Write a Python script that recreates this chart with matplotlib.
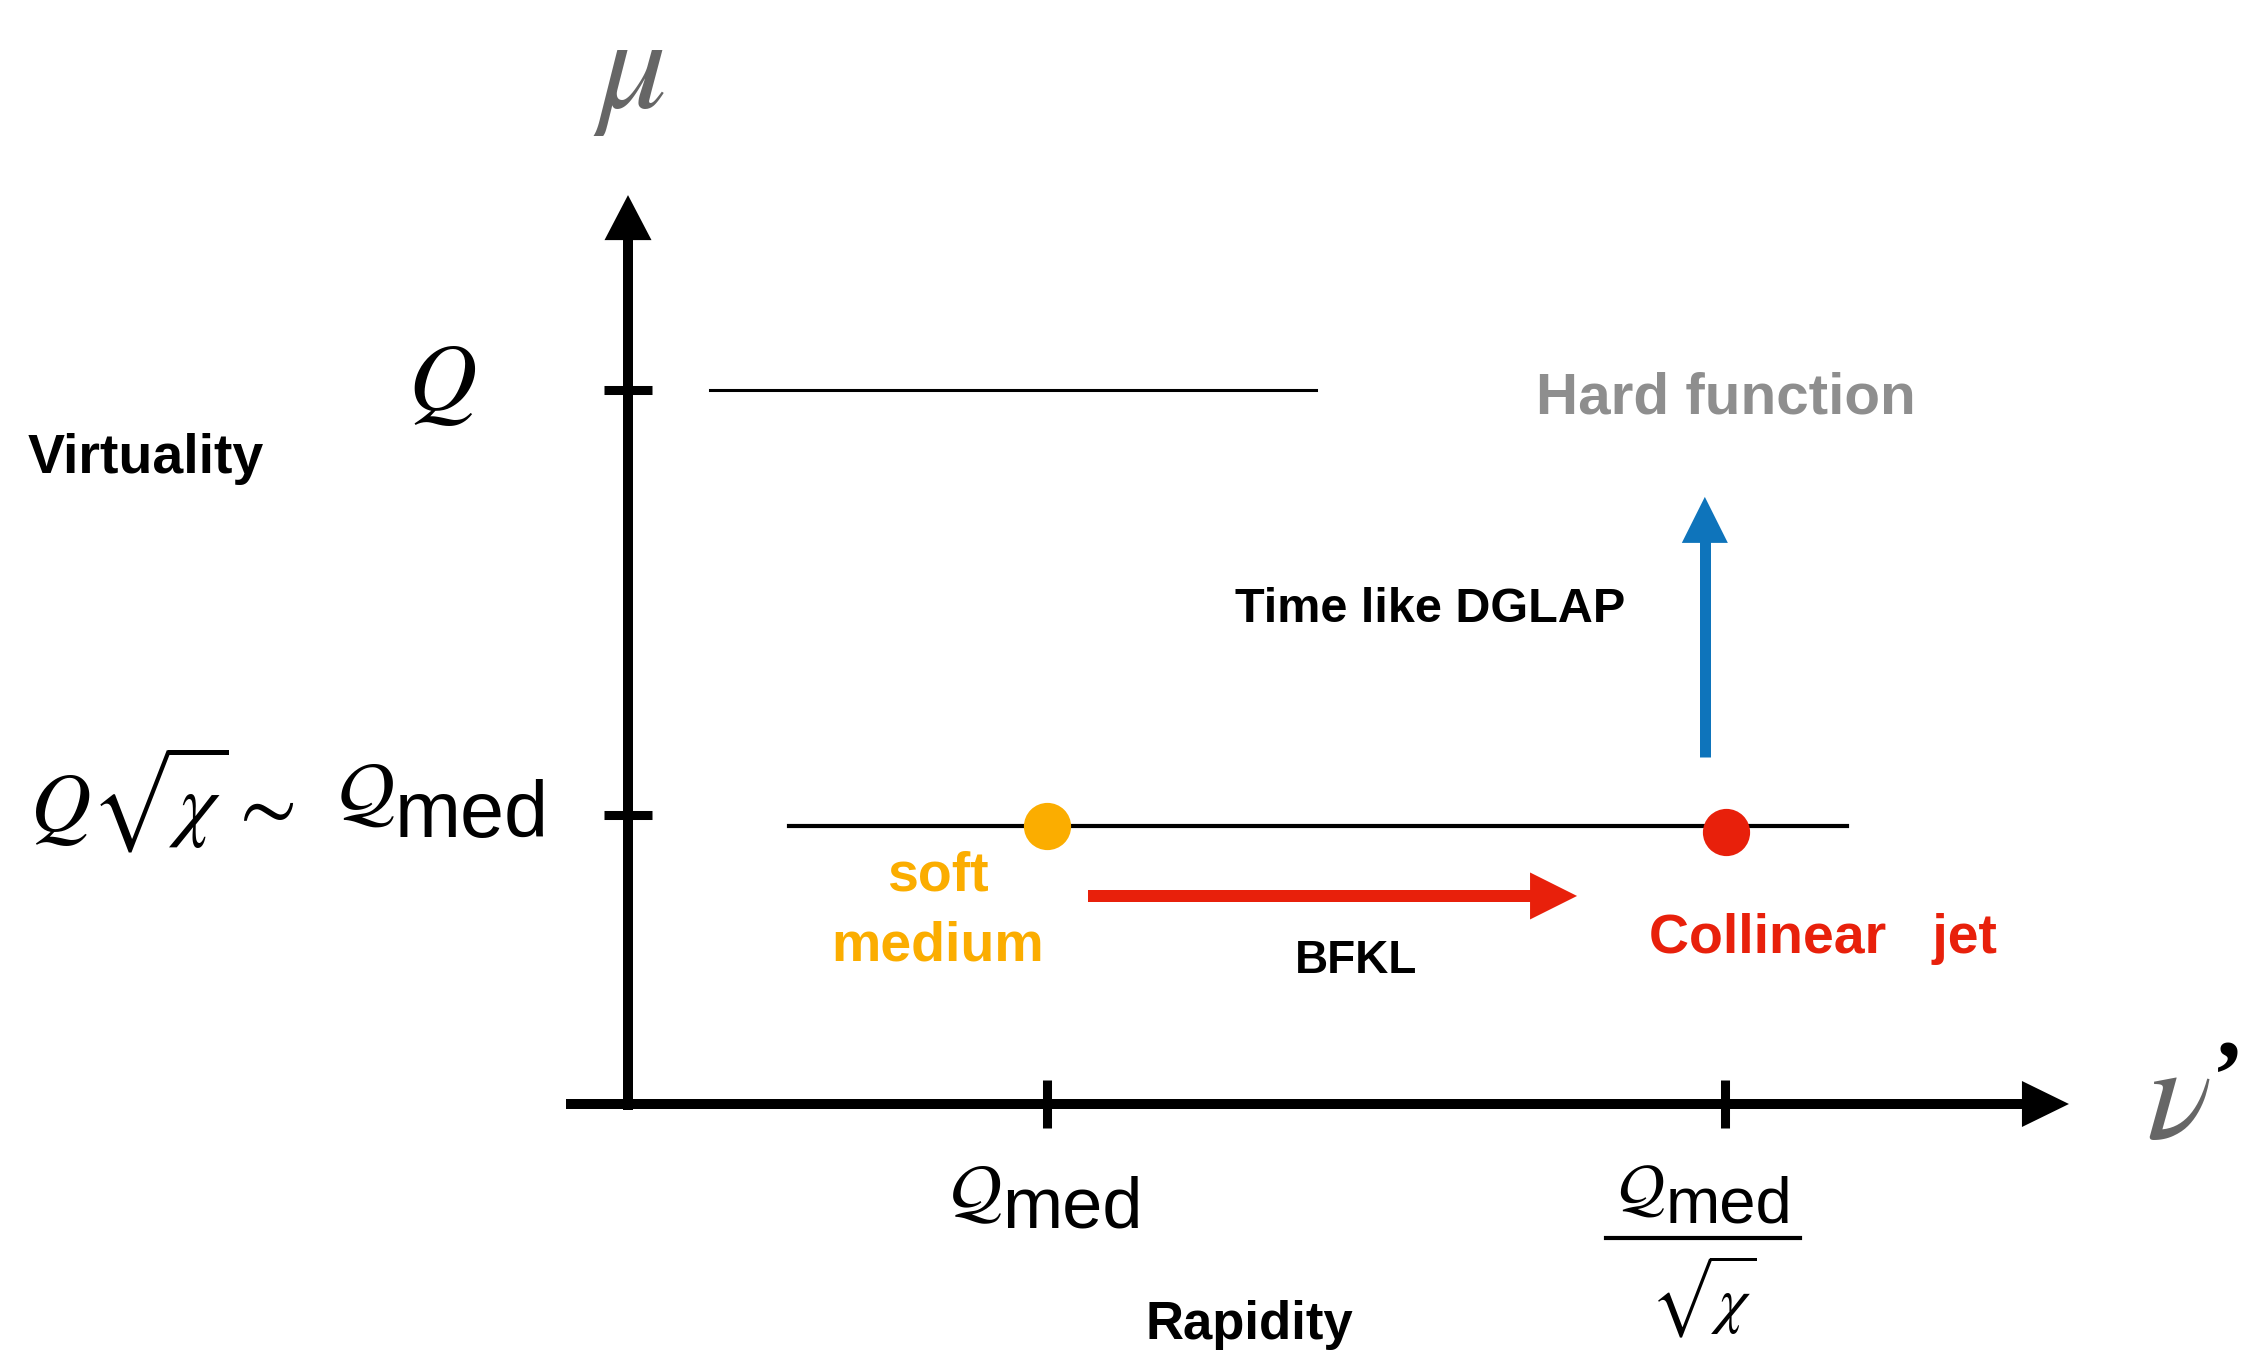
import numpy as np
import matplotlib.pyplot as plt

plt.rcParams['mathtext.fontset'] = 'stix'
plt.rcParams['font.family'] = ['Liberation Sans', 'DejaVu Sans']

# scale positions in arbitrary units: rapidity nu' (x) and virtuality mu (y)
nu_ticks = [1.0, 2.618]        # Q_med, Q_med / sqrt(chi)
mu_ticks = [0.986, 2.437]      # Q sqrt(chi) ~ Q_med, Q

hard_nu = [0.196, 1.642]       # hard scale line
hard_mu = [2.437, 2.437]
medium_nu = [0.384, 2.909]     # medium scale line
medium_mu = [0.949, 0.949]

mode_nu = [1.0, 2.62]          # soft medium mode, collinear jet mode
mode_mu = [0.949, 0.928]
mode_colors = ['#FBAD00', '#E8200B']

bfkl_nu = [1.098, 2.265]       # evolution in rapidity
bfkl_mu = [0.710, 0.710]
dglap_nu = [2.570, 2.570]      # evolution in virtuality
dglap_mu = [1.184, 2.072]

GRAY = '#666666'
ORANGE = '#FBAD00'
RED = '#E8200B'
BLUE = '#0E74BB'

fig = plt.figure(figsize=(22.49, 13.58), dpi=100)
ax = fig.add_axes([0, 0, 1, 1])
ax.set_xlim(-1.4988, 3.8687)
ax.set_ylim(-0.8669, 3.7679)
ax.axis('off')


def arrow(start, tip, color, width, head_len, head_w):
    # shaft as a plain line, head as a filled wedge; sizes in pixels
    p0 = ax.transData.transform(start)
    p1 = ax.transData.transform(tip)
    d = (p1 - p0) / np.hypot(*(p1 - p0))
    base = ax.transData.inverted().transform(p1 - d * head_len * 0.6)
    ax.plot([start[0], base[0]], [start[1], base[1]], color=color,
            lw=width * 0.72, solid_capstyle='butt')
    style = '-|>,head_length=%.2f,head_width=%.2f' % (head_len * 0.72, head_w * 0.36)
    ax.annotate('', xy=tip, xytext=start,
                arrowprops=dict(arrowstyle=style, lw=0, color=color,
                                shrinkA=0, shrinkB=0, mutation_scale=1))


def qmed(x, y, size, rise):
    # script Q followed by an upright "med", joined at x
    ax.annotate(r'$\mathcal{Q}$', (x, y), xytext=(0, rise), textcoords='offset pixels',
                ha='right', va='baseline', fontsize=size)
    ax.text(x, y, 'med', ha='left', va='baseline', fontsize=size)


# axes with arrow heads
arrow((-0.148, 0), (3.439, 0), 'black', 10, 47, 46)
arrow((0, -0.02), (0, 3.102), 'black', 10, 45, 47)

# tick marks
ax.plot(nu_ticks, [0, 0], ls='', marker='|', ms=34, mew=6.5, color='black')
ax.plot([0, 0], mu_ticks, ls='', marker='_', ms=34, mew=6.5, color='black')

# scale lines
ax.plot(hard_nu, hard_mu, color='black', lw=2.2)
ax.plot(medium_nu, medium_mu, color='black', lw=3.0)

# modes
for n, m, c in zip(mode_nu, mode_mu, mode_colors):
    ax.plot(n, m, 'o', ms=34, color=c, mew=0, zorder=5)

# evolution arrows
arrow((bfkl_nu[0], bfkl_mu[0]), (bfkl_nu[1], bfkl_mu[1]), RED, 12, 47, 47)
arrow((dglap_nu[0], dglap_mu[0]), (dglap_nu[1], dglap_mu[1]), BLUE, 11, 46, 46)

# axis symbols
ax.text(0.002, 3.399, r'$\mu$', ha='center', va='baseline', fontsize=98, color=GRAY)
ax.text(3.700, -0.116, r'$\nu$', ha='center', va='baseline', fontsize=98, color=GRAY)
ax.text(3.818, 0.070, '\u2019', ha='center', va='center', fontsize=70,
        family='Liberation Serif', weight='bold', color='black')

# virtuality tick labels
ax.text(-0.444, 2.369, r'$Q$', ha='center', va='baseline', fontsize=68)
ax.text(-1.428, 0.935, r'$Q\sqrt{\chi}$', ha='left', va='baseline', fontsize=60)
ax.text(-0.876, 0.930, r'$\sim$', ha='center', va='baseline', fontsize=60)
qmed(-0.556, 0.911, 57, 20)

# rapidity tick labels
qmed(0.893, -0.423, 52, 14)
qmed(2.476, -0.406, 47, 14)
ax.plot([2.334, 2.797], [-0.457, -0.457], color='black', lw=3)
ax.text(2.566, -0.510, r'$\sqrt{\chi}$', ha='center', va='top', fontsize=46)

# axis names
ax.text(-1.432, 2.154, 'Virtuality', ha='left', va='baseline', fontsize=40, weight='bold')
ax.text(1.484, -0.802, 'Rapidity', ha='center', va='baseline', fontsize=38, weight='bold')

# annotations
ax.text(2.621, 2.358, 'Hard function', ha='center', va='baseline', fontsize=42,
        weight='bold', color='#8E8E8E')
ax.text(1.914, 1.645, 'Time like DGLAP', ha='center', va='baseline', fontsize=35, weight='bold')
ax.text(0.740, 0.730, 'soft', ha='center', va='baseline', fontsize=40, weight='bold', color=ORANGE)
ax.text(0.740, 0.491, 'medium', ha='center', va='baseline', fontsize=40, weight='bold', color=ORANGE)
ax.text(1.737, 0.447, 'BFKL', ha='center', va='baseline', fontsize=33, weight='bold')
ax.text(2.852, 0.515, 'Collinear   jet', ha='center', va='baseline', fontsize=40,
        weight='bold', color=RED)

fig.savefig('out.png', dpi=100)
